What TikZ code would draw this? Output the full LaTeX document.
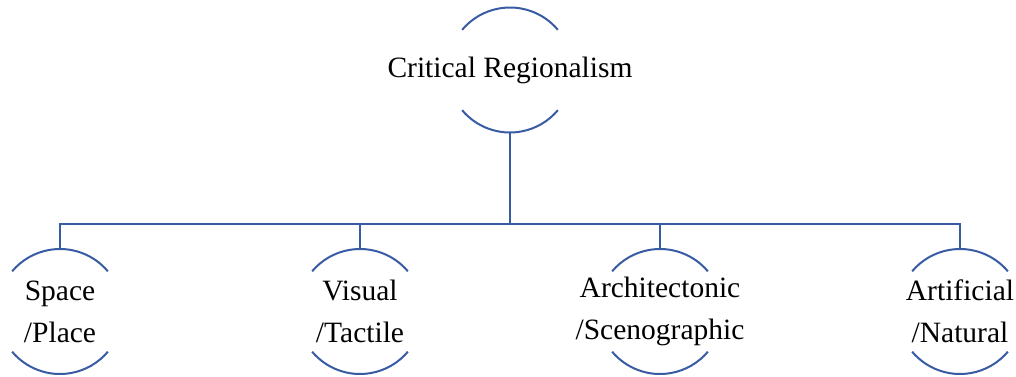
\documentclass[tikz,border=0pt]{standalone}
\usepackage{fontspec}
\setmainfont{LiberationSerif}[Extension=.ttf,UprightFont=*-Regular,BoldFont=*-Bold]
\usepackage{tikz}
\usetikzlibrary{trees}
\usetikzlibrary{calc}
\definecolor{arcblue}{RGB}{56,92,164}
\tikzset{
  topic/.style={rectangle,inner sep=0pt,align=center,font=\fontsize{29.5}{42}\selectfont},
  ring/.style={draw=arcblue,line width=2pt},
}

\begin{document}
\begin{tikzpicture}[level distance=241.5pt,sibling distance=300pt,
	edge from parent/.style={ring},
	edge from parent path={($(\tikzparentnode)+(0,-62.5pt)$) |- ($(\tikzchildnode)+(0,87.5pt)$) -- ($(\tikzchildnode)+(0,62.5pt)$)}]
\useasboundingbox (-510pt,70pt) rectangle (506pt,-306pt);
\node [topic] (cr) {Critical Regionalism}
	child {node [topic] (sp) {Space\\/Place}}
	child {node [topic] (vt) {Visual\\/Tactile}}
	child {node [topic] (as) {Architectonic\\/Scenographic}}
	child {node [topic] (an) {Artificial\\/Natural}}
;
\foreach \n in {cr,sp,vt,as,an}{
	\draw [ring] (\n) ++(40:62.5pt) arc[start angle=40,end angle=140,radius=62.5pt];
	\draw [ring] (\n) ++(220:62.5pt) arc[start angle=220,end angle=320,radius=62.5pt];
}
\end{tikzpicture}
\end{document}
